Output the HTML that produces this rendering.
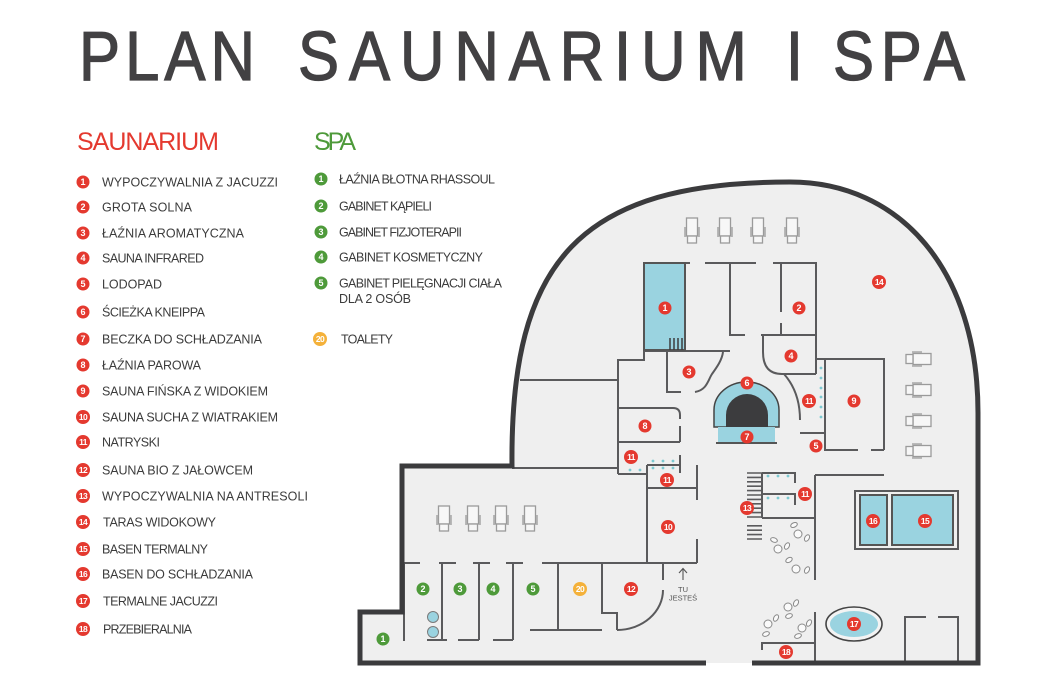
<!DOCTYPE html>
<html><head><meta charset="utf-8"><style>
html,body{margin:0;padding:0;background:#fff;}
svg{display:block;}
text{font-family:"Liberation Sans","DejaVu Sans",sans-serif;}
</style></head><body>
<svg width="1050" height="700" viewBox="0 0 1050 700" xmlns="http://www.w3.org/2000/svg">
<defs>
<g id="ch" fill="#f7f7f7" stroke="#9b9b9b" stroke-width="1.3">
 <rect x="-5.5" y="-13" width="11" height="18"/>
 <rect x="-4.5" y="5" width="9" height="7"/>
 <path d="M-7,-4 V6 M7,-4 V6" fill="none"/>
</g>
</defs>

<!-- Title -->
<g fill="#424143" stroke="#424143" stroke-width="1.3" font-size="70" transform="scale(0.88,1)">
<text x="89.8" y="80" textLength="200" lengthAdjust="spacing">PLAN</text>
<text x="338.6" y="80" textLength="510" lengthAdjust="spacing">SAUNARIUM</text>
<text x="893" y="80">I</text>
<text x="946.6" y="80" textLength="150" lengthAdjust="spacing">SPA</text>
</g>

<!-- headers -->
<text x="77" y="150" font-size="25" fill="#e4392f" textLength="142" lengthAdjust="spacing">SAUNARIUM</text>
<text x="314" y="150" font-size="25" fill="#4e9a3a" textLength="42" lengthAdjust="spacing">SPA</text>

<!-- Saunarium list -->
<g fill="#e4392f">
<circle cx="83" cy="182" r="6.5"/><circle cx="83" cy="207" r="6.5"/><circle cx="83" cy="233" r="6.5"/><circle cx="83" cy="258" r="6.5"/><circle cx="83" cy="284" r="6.5"/><circle cx="83" cy="312" r="6.5"/><circle cx="83" cy="339" r="6.5"/><circle cx="83" cy="365" r="6.5"/><circle cx="83" cy="391" r="6.5"/>
<circle cx="83" cy="417" r="7"/><circle cx="83" cy="442" r="7"/><circle cx="83" cy="470" r="7"/><circle cx="83" cy="496" r="7"/><circle cx="83" cy="522" r="7"/><circle cx="83" cy="549" r="7"/><circle cx="83" cy="574" r="7"/><circle cx="83" cy="601" r="7"/><circle cx="83" cy="629" r="7"/>
</g>
<g fill="#fff" font-size="9" font-weight="bold" text-anchor="middle">
<text x="83" y="185.2">1</text><text x="83" y="210.2">2</text><text x="83" y="236.2">3</text><text x="83" y="261.2">4</text><text x="83" y="287.2">5</text><text x="83" y="315.2">6</text><text x="83" y="342.2">7</text><text x="83" y="368.2">8</text><text x="83" y="394.2">9</text>
</g>
<g fill="#fff" font-size="8.5" font-weight="bold" text-anchor="middle" letter-spacing="-0.6">
<text x="83" y="420">10</text><text x="83" y="445">11</text><text x="83" y="473">12</text><text x="83" y="499">13</text><text x="83" y="525">14</text><text x="83" y="552">15</text><text x="83" y="577">16</text><text x="83" y="604">17</text><text x="83" y="632">18</text>
</g>
<g fill="#3c3c3c" font-size="12.5">
<text x="102" y="186.7" textLength="176" lengthAdjust="spacing">WYPOCZYWALNIA Z JACUZZI</text>
<text x="102" y="211.7" textLength="90" lengthAdjust="spacing">GROTA SOLNA</text>
<text x="102" y="237.7" textLength="142" lengthAdjust="spacing">ŁAŹNIA AROMATYCZNA</text>
<text x="102" y="262.7" textLength="102" lengthAdjust="spacing">SAUNA INFRARED</text>
<text x="102" y="288.7" textLength="60" lengthAdjust="spacing">LODOPAD</text>
<text x="102" y="316.7" textLength="103" lengthAdjust="spacing">ŚCIEŻKA KNEIPPA</text>
<text x="102" y="343.7" textLength="160" lengthAdjust="spacing">BECZKA DO SCHŁADZANIA</text>
<text x="102" y="369.7" textLength="99" lengthAdjust="spacing">ŁAŹNIA PAROWA</text>
<text x="102" y="395.7" textLength="166" lengthAdjust="spacing">SAUNA FIŃSKA Z WIDOKIEM</text>
<text x="102" y="421.7" textLength="176" lengthAdjust="spacing">SAUNA SUCHA Z WIATRAKIEM</text>
<text x="102" y="446.7" textLength="58" lengthAdjust="spacing">NATRYSKI</text>
<text x="102" y="474.7" textLength="151" lengthAdjust="spacing">SAUNA BIO Z JAŁOWCEM</text>
<text x="102" y="500.7" textLength="206" lengthAdjust="spacing">WYPOCZYWALNIA  NA ANTRESOLI</text>
<text x="103" y="526.7" textLength="113" lengthAdjust="spacing">TARAS WIDOKOWY</text>
<text x="102" y="553.7" textLength="106" lengthAdjust="spacing">BASEN TERMALNY</text>
<text x="102" y="578.7" textLength="151" lengthAdjust="spacing">BASEN DO SCHŁADZANIA</text>
<text x="103" y="605.7" textLength="115" lengthAdjust="spacing">TERMALNE JACUZZI</text>
<text x="103" y="633.7" textLength="89" lengthAdjust="spacing">PRZEBIERALNIA</text>
</g>

<!-- SPA list -->
<g fill="#4e9a3a">
<circle cx="321" cy="179" r="6.5"/><circle cx="321" cy="206" r="6.5"/><circle cx="321" cy="232" r="6.5"/><circle cx="321" cy="257" r="6.5"/><circle cx="321" cy="283" r="6.5"/>
</g>
<circle cx="320" cy="339" r="7" fill="#f4b13a"/>
<g fill="#fff" font-size="9" font-weight="bold" text-anchor="middle">
<text x="321" y="182.2">1</text><text x="321" y="209.2">2</text><text x="321" y="235.2">3</text><text x="321" y="260.2">4</text><text x="321" y="286.2">5</text>
<text x="320" y="342" font-size="8.5" letter-spacing="-0.6">20</text>
</g>
<g fill="#3c3c3c" font-size="12.5">
<text x="339" y="183.7" textLength="156" lengthAdjust="spacing">ŁAŹNIA BŁOTNA RHASSOUL</text>
<text x="339" y="210.7" textLength="93" lengthAdjust="spacing">GABINET KĄPIELI</text>
<text x="339" y="236.7" textLength="123" lengthAdjust="spacing">GABINET FIZJOTERAPII</text>
<text x="339" y="261.7" textLength="144" lengthAdjust="spacing">GABINET KOSMETYCZNY</text>
<text x="339" y="287.7" textLength="163" lengthAdjust="spacing">GABINET PIELĘGNACJI CIAŁA</text>
<text x="339" y="303" textLength="72" lengthAdjust="spacing">DLA 2 OSÓB</text>
<text x="341" y="343.7" textLength="52" lengthAdjust="spacing">TOALETY</text>
</g>

<!-- Floor -->
<path d="M360,663 V612 H402 V466 H512 C510,260 580,182 790,182 C900,182 978,270 978,413 V663 Z" fill="#efefef"/>

<!-- inner walls -->
<g fill="none" stroke="#5a5a5c" stroke-width="2">
<path d="M685,263 H690 M705,263 H756 M730,263 V335 H745 M773,263 H816 V374 M781,263 V312 M781,323 V335 M761,335 H816"/>
<path d="M763,335 V352 Q763,374 782,374 H816"/>
<path d="M644,350 V360 H618 V474 M644,351 H730 M667,351 V392 H681"/>
<path d="M695,392 C707,390 708,380 712,374 C717,367 722,360 723,352"/>
<path d="M520,380 H618 M512,468 H618"/>
<path d="M618,408 H673 Q680,408 680,415 V419 M680,426 V442 M618,442 H680"/>
<path d="M618,474 H647 M647,465 V563 M647,465 H680 M680,455 V473 M647,488 H697 M697,465 V500 M697,539 V563"/>
<path d="M542,563 H697 M558,563 V630 M602,563 V613 H617 V630 M530,630 H602 M663,563 V580"/>
<path d="M617,630 A46,40 0 0 0 663,590"/>
<path d="M404,563 V641 M404,563 H420 M439,563 H456 M442,563 V640 M427,640 H447 M473,563 H490 M479,563 V640 M458,640 H479 M506,563 H523 M513,563 V640 M493,640 H513"/>
<path d="M784,374 Q800,392 800,420 M800,433 H825"/>
<path d="M816,359 H884 V450 M884,450 H871 M858,450 H825 V359"/>
<path d="M762,473 V518 M762,473 H795 V483 M762,494 H795 V505 M762,518 H815 M815,475 V580 M815,475 H884"/>
<path d="M815,612 V663 M762,650 V643 H815"/>
<path d="M905,663 V617 H926 M938,617 H958 V663"/>
<rect x="855" y="491" width="103" height="58"/>
</g>

<!-- stairs -->
<g stroke="#5a5a5c" stroke-width="1.6">
<path d="M747,473 H762 M747,477.4 H762 M747,481.8 H762 M747,486.2 H762 M747,490.6 H762 M747,495 H762 M747,499.4 H762 M747,503.8 H762 M747,508.2 H762 M747,512.6 H762 M747,517 H762 M747,525.8 H762 M747,530.2 H762 M747,534.6 H762 M747,539 H762"/>
</g>

<!-- pool 1 -->
<rect x="644" y="263" width="41" height="87" fill="#9ad3e0" stroke="#555" stroke-width="2"/>
<path d="M670,338 V350 M674,338 V350 M678,338 V350 M682,338 V350" stroke="#3d3d3d" stroke-width="1.5"/>

<!-- pools 15/16 -->
<rect x="860" y="495" width="27" height="50" fill="#9ad3e0" stroke="#555" stroke-width="2"/>
<rect x="892" y="495" width="61" height="50" fill="#9ad3e0" stroke="#555" stroke-width="2"/>

<!-- jacuzzi -->
<ellipse cx="854" cy="624" rx="28" ry="17" fill="#f3f3f3" stroke="#444" stroke-width="1.6"/>
<ellipse cx="854" cy="624" rx="24" ry="13" fill="#9ad3e0"/>

<!-- kneipp -->
<path d="M714,427 V410 A32.5,28 0 0 1 779,410 V427 Z" fill="#9ad3e0" stroke="#444" stroke-width="1.5"/>
<path d="M726,427 V415 A21,21 0 0 1 768,415 V427 Z" fill="#3c3c3e"/>
<rect x="718" y="427" width="57" height="16" fill="#9ad3e0"/>
<path d="M716,443 H777" stroke="#555" stroke-width="2"/>

<!-- salt circles -->
<circle cx="433" cy="617" r="5.5" fill="#9ad3e0" stroke="#7a7a7a" stroke-width="1"/>
<circle cx="433" cy="632" r="5.5" fill="#9ad3e0" stroke="#7a7a7a" stroke-width="1"/>

<!-- shower dots -->
<g fill="#7cc9d1">
<circle cx="821" cy="368" r="1.4"/><circle cx="821" cy="378" r="1.4"/><circle cx="821" cy="388" r="1.4"/><circle cx="821" cy="397" r="1.4"/><circle cx="821" cy="407" r="1.4"/><circle cx="821" cy="417" r="1.4"/>
<circle cx="630" cy="470" r="1.4"/><circle cx="640" cy="470" r="1.4"/>
<circle cx="653" cy="461" r="1.4"/><circle cx="663" cy="461" r="1.4"/><circle cx="673" cy="461" r="1.4"/>
<circle cx="653" cy="468" r="1.4"/><circle cx="663" cy="468" r="1.4"/><circle cx="673" cy="468" r="1.4"/>
<circle cx="768" cy="476" r="1.4"/><circle cx="778" cy="476" r="1.4"/><circle cx="788" cy="476" r="1.4"/>
<circle cx="768" cy="498" r="1.4"/><circle cx="778" cy="498" r="1.4"/><circle cx="788" cy="498" r="1.4"/>
</g>

<!-- bistro tables -->
<g fill="#fafafa" stroke="#8a8a8a" stroke-width="1">
<circle cx="798" cy="534" r="4"/><circle cx="778" cy="549" r="4"/><circle cx="796" cy="569" r="4"/>
<circle cx="788" cy="607" r="4"/><circle cx="768" cy="624" r="4"/><circle cx="802" cy="628" r="4"/>
<ellipse cx="794" cy="525" rx="3.5" ry="2.2" transform="rotate(-25 794 525)"/>
<ellipse cx="807" cy="538" rx="3.5" ry="2.2" transform="rotate(-60 807 538)"/>
<ellipse cx="774" cy="540" rx="3.5" ry="2.2" transform="rotate(20 774 540)"/>
<ellipse cx="787" cy="546" rx="3.5" ry="2.2" transform="rotate(-60 787 546)"/>
<ellipse cx="789" cy="560" rx="3.5" ry="2.2" transform="rotate(-30 789 560)"/>
<ellipse cx="807" cy="570" rx="3.5" ry="2.2" transform="rotate(-60 807 570)"/>
<ellipse cx="796" cy="603" rx="3.5" ry="2.2" transform="rotate(-60 796 603)"/>
<ellipse cx="789" cy="616" rx="3.5" ry="2.2" transform="rotate(-20 789 616)"/>
<ellipse cx="776" cy="618" rx="3.5" ry="2.2" transform="rotate(-60 776 618)"/>
<ellipse cx="766" cy="634" rx="3.5" ry="2.2" transform="rotate(-20 766 634)"/>
<ellipse cx="809" cy="623" rx="3.5" ry="2.2" transform="rotate(-60 809 623)"/>
<ellipse cx="798" cy="636" rx="3.5" ry="2.2" transform="rotate(-20 798 636)"/>
</g>

<!-- lounge chairs -->
<use href="#ch" x="692" y="231"/><use href="#ch" x="725" y="231"/><use href="#ch" x="758" y="231"/><use href="#ch" x="792" y="231"/>
<use href="#ch" x="444" y="519"/><use href="#ch" x="473" y="519"/><use href="#ch" x="501" y="519"/><use href="#ch" x="530" y="519"/>
<use href="#ch" transform="translate(918,359) rotate(90)"/>
<use href="#ch" transform="translate(918,390) rotate(90)"/>
<use href="#ch" transform="translate(918,421) rotate(90)"/>
<use href="#ch" transform="translate(918,451) rotate(90)"/>

<!-- outer wall -->
<path d="M706,663 H360 V612 H402 V466 H512 C510,260 580,182 790,182 C900,182 978,270 978,413 V663 H752" fill="none" stroke="#3b3b3d" stroke-width="5" stroke-linejoin="miter"/>

<!-- TU JESTES -->
<path d="M683,580 V569 M679,573 L683,568.5 L687,573" fill="none" stroke="#555" stroke-width="1.1"/>
<g fill="#555" font-size="7.5" text-anchor="middle">
<text x="683" y="592">TU</text>
<text x="683" y="600.5">JESTEŚ</text>
</g>

<!-- map labels -->
<g fill="#e4392f">
<circle cx="665" cy="308" r="6.5"/><circle cx="799" cy="308" r="6.5"/><circle cx="689" cy="372" r="6.5"/><circle cx="791" cy="356" r="6.5"/><circle cx="816" cy="446" r="6.5"/><circle cx="747" cy="383" r="6.5"/><circle cx="747" cy="437" r="6.5"/><circle cx="645" cy="426" r="6.5"/><circle cx="854" cy="401" r="6.5"/>
<circle cx="668" cy="527" r="7"/><circle cx="631" cy="457" r="7"/><circle cx="667" cy="480" r="7"/><circle cx="809" cy="401" r="7"/><circle cx="805" cy="494" r="7"/><circle cx="631" cy="589" r="7"/><circle cx="747" cy="508" r="7"/><circle cx="879" cy="282" r="7"/><circle cx="925" cy="521" r="7"/><circle cx="873" cy="521" r="7"/><circle cx="854" cy="624" r="7"/><circle cx="786" cy="652" r="7"/>
</g>
<g fill="#4e9a3a">
<circle cx="383" cy="639" r="6.5"/><circle cx="423" cy="589" r="6.5"/><circle cx="460" cy="589" r="6.5"/><circle cx="493" cy="589" r="6.5"/><circle cx="533" cy="589" r="6.5"/>
</g>
<circle cx="580" cy="589" r="7" fill="#f4b13a"/>
<g fill="#fff" font-size="9" font-weight="bold" text-anchor="middle">
<text x="665" y="311.2">1</text><text x="799" y="311.2">2</text><text x="689" y="375.2">3</text><text x="791" y="359.2">4</text><text x="816" y="449.2">5</text><text x="747" y="386.2">6</text><text x="747" y="440.2">7</text><text x="645" y="429.2">8</text><text x="854" y="404.2">9</text>
<text x="383" y="642.2">1</text><text x="423" y="592.2">2</text><text x="460" y="592.2">3</text><text x="493" y="592.2">4</text><text x="533" y="592.2">5</text>
</g>
<g fill="#fff" font-size="8.5" font-weight="bold" text-anchor="middle" letter-spacing="-0.6">
<text x="668" y="530">10</text><text x="631" y="460">11</text><text x="667" y="483">11</text><text x="809" y="404">11</text><text x="805" y="497">11</text><text x="631" y="592">12</text><text x="747" y="511">13</text><text x="879" y="285">14</text><text x="925" y="524">15</text><text x="873" y="524">16</text><text x="854" y="627">17</text><text x="786" y="655">18</text><text x="580" y="592">20</text>
</g>
</svg>
</body></html>
